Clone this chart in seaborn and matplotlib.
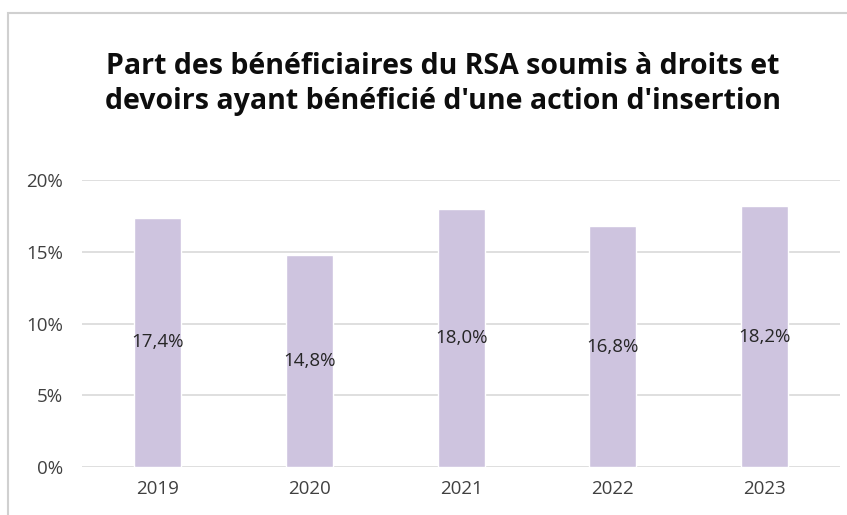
import matplotlib
matplotlib.use("Agg")
import matplotlib.pyplot as plt
import seaborn as sns
import pandas as pd
from matplotlib.ticker import FuncFormatter
from matplotlib.patches import Rectangle

years = ["2019", "2020", "2021", "2022", "2023"]
values = [0.174, 0.148, 0.180, 0.168, 0.182]
title = "Part des bénéficiaires du RSA soumis à droits et\ndevoirs ayant bénéficié d'une action d'insertion"

sns.set_theme(style="white")
plt.rcParams['font.family'] = ['Open Sans', 'DejaVu Sans']

df = pd.DataFrame({"year": years, "value": values})

fig = plt.figure(figsize=(8.47, 5.15), dpi=100)
fig.patch.set_facecolor("white")
ax = fig.add_axes([0.097, 0.093, 0.895, 0.557])

sns.barplot(data=df, x="year", y="value", color="#CEC4DF", saturation=1,
            width=0.31, ax=ax, zorder=3)

ax.set_ylim(0, 0.2)
ax.set_yticks([0, 0.05, 0.10, 0.15, 0.20])
ax.yaxis.set_major_formatter(FuncFormatter(lambda v, p: f"{v*100:.0f}%"))
ax.grid(axis="y", color="#D9D9D9", linewidth=1.2, zorder=0)
ax.set_axisbelow(True)
for s in ax.spines.values():
    s.set_visible(False)
ax.set_xlabel("")
ax.set_ylabel("")
ax.tick_params(axis="both", length=0, labelsize=13.5, labelcolor="#404040")
ax.tick_params(axis="y", pad=14)
ax.tick_params(axis="x", pad=9)

ax.bar_label(ax.containers[0],
             labels=[f"{v*100:.1f}%".replace(".", ",") for v in values],
             label_type="center", fontsize=13.5, color="#262626")

fig.text(0.523, 0.837, title, ha="center", va="center", fontsize=20.5,
         fontweight="bold", color="#0D0D0D", linespacing=1.3,
         family=["Open Sans", "DejaVu Sans"])

# thin outer border of the chart frame
fig.patches.append(Rectangle((0.010, -0.01), 1.0, 0.985, transform=fig.transFigure,
                             fill=False, edgecolor="#D0D0D0", linewidth=1.5))

fig.savefig("out.png", dpi=100, facecolor="white")
